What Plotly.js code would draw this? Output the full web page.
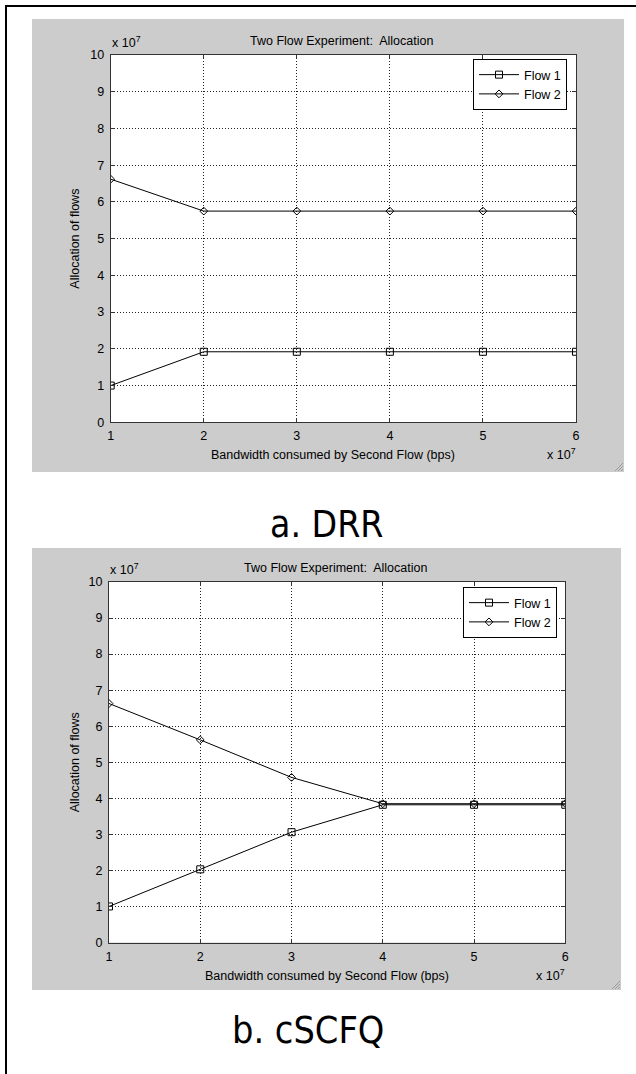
<!DOCTYPE html>
<html>
<head>
<meta charset="utf-8">
<script src="https://cdn.plot.ly/plotly-3.0.1.min.js"></script>
<style>
html,body{margin:0;padding:0;background:#fff;}
#chart{width:636px;height:1074px;}
</style>
</head>
<body>
<div id="chart"></div>
<script>
// Data (bps)
var bandwidth = [1e7, 2e7, 3e7, 4e7, 5e7, 6e7];
var drrFlow1 = [1.0e7, 1.92e7, 1.92e7, 1.92e7, 1.92e7, 1.92e7];
var drrFlow2 = [6.62e7, 5.75e7, 5.75e7, 5.75e7, 5.75e7, 5.75e7];
var cscfqFlow1 = [1.0e7, 2.03e7, 3.06e7, 3.82e7, 3.82e7, 3.82e7];
var cscfqFlow2 = [6.63e7, 5.62e7, 4.58e7, 3.85e7, 3.85e7, 3.85e7];
var xTickVals = [1e7, 2e7, 3e7, 4e7, 5e7, 6e7];
var xTickText = ['1', '2', '3', '4', '5', '6'];
var yTickVals = [0, 1e7, 2e7, 3e7, 4e7, 5e7, 6e7, 7e7, 8e7, 9e7, 1e8];
var yTickText = ['0', '1', '2', '3', '4', '5', '6', '7', '8', '9', '10'];
var seriesNames = ['Flow 1', 'Flow 2'];
var chartTitle = 'Two Flow Experiment:  Allocation';
var xTitle = 'Bandwidth consumed by Second Flow (bps)';
var yTitle = 'Allocation of flows';
var captions = ['a. DRR', 'b. cSCFQ'];

var W = 636, H = 1074;
function px(x){ return x / W; }
function py(y){ return 1 - y / H; }
var FONT = 'Liberation Sans, Arial, sans-serif';
var CAPFONT = 'DejaVu Sans Condensed, DejaVu Sans, sans-serif';
var FS = 12.5;

function mk(x, y, name, sym, xa, ya, leg){
  return {
    x: x, y: y, name: name, type: 'scatter', mode: 'lines+markers',
    xaxis: xa, yaxis: ya, legend: leg,
    line: {color: '#000', width: 1},
    marker: {symbol: sym, size: sym === 'square-open' ? 7 : 6, color: '#000', line: {color: '#000', width: 1}}
  };
}
var traces = [
  mk(bandwidth, drrFlow1, seriesNames[0], 'square-open', 'x', 'y', 'legend'),
  mk(bandwidth, drrFlow2, seriesNames[1], 'diamond-open', 'x', 'y', 'legend'),
  mk(bandwidth, cscfqFlow1, seriesNames[0], 'square-open', 'x2', 'y2', 'legend2'),
  mk(bandwidth, cscfqFlow2, seriesNames[1], 'diamond-open', 'x2', 'y2', 'legend2')
];

function xax(dom, anchor){
  return {
    domain: dom, anchor: anchor, range: [1e7, 6e7],
    tickvals: xTickVals, ticktext: xTickText,
    ticks: 'inside', ticklen: 4, tickcolor: '#333', mirror: 'ticks',
    showline: true, linecolor: '#333', linewidth: 1,
    showgrid: true, gridcolor: '#222', griddash: '1px,2px', gridwidth: 1,
    zeroline: false, tickfont: {family: FONT, size: FS, color: '#000'},
    ticklabelstandoff: 2,
    fixedrange: true
  };
}
function yax(dom, anchor){
  return {
    domain: dom, anchor: anchor, range: [0, 1e8],
    tickvals: yTickVals, ticktext: yTickText,
    ticks: 'inside', ticklen: 4, tickcolor: '#333', mirror: 'ticks',
    showline: true, linecolor: '#333', linewidth: 1,
    showgrid: true, gridcolor: '#222', griddash: '1px,2px', gridwidth: 1,
    zeroline: false, tickfont: {family: FONT, size: FS, color: '#000'},
    ticklabelstandoff: 3,
    fixedrange: true
  };
}

var panels = [
  {gx0: 32, gx1: 624, gy0: 19, gy1: 472, ax0: 110.7, ax1: 576, ay0: 55, ay1: 422.3, legX: 567, legY: 59, capY: 524, capSize: 37},
  {gx0: 32, gx1: 621, gy0: 548, gy1: 990, ax0: 109, ax1: 565.3, ay0: 582, ay1: 942.5, legX: 557, legY: 587, capY: 1030, capSize: 37.5}
];

var shapes = [];
var annotations = [];
panels.forEach(function(p, i){
  shapes.push({type: 'rect', xref: 'paper', yref: 'paper', layer: 'below',
    x0: px(p.gx0), x1: px(p.gx1), y0: py(p.gy1), y1: py(p.gy0),
    fillcolor: '#cccccc', line: {width: 0}});
  shapes.push({type: 'rect', xref: 'paper', yref: 'paper', layer: 'below',
    x0: px(p.ax0), x1: px(p.ax1), y0: py(p.ay1), y1: py(p.ay0),
    fillcolor: '#ffffff', line: {width: 0}});
  // resize grip
  [3, 6, 9].forEach(function(d){
    shapes.push({type: 'line', xref: 'paper', yref: 'paper',
      x0: px(p.gx1 - d), y0: py(p.gy1 - 1), x1: px(p.gx1 - 1), y1: py(p.gy1 - d),
      line: {color: '#9a9a9a', width: 1}});
  });
  var cx = (p.ax0 + p.ax1) / 2;
  annotations.push({text: chartTitle, xref: 'paper', yref: 'paper', x: px(cx - 2), y: py(p.ay0 - 14),
    xanchor: 'center', yanchor: 'middle', showarrow: false, font: {family: FONT, size: FS, color: '#000'}});
  annotations.push({text: 'x 10<sup>7</sup>', xref: 'paper', yref: 'paper', x: px(p.ax0 - 1), y: py(p.ay0 - 3),
    xanchor: 'left', yanchor: 'bottom', showarrow: false, font: {family: FONT, size: FS, color: '#000'}});
  annotations.push({text: 'x 10<sup>7</sup>', xref: 'paper', yref: 'paper', x: px(p.ax1 + 2), y: py(p.ay1 + 22),
    xanchor: 'right', yanchor: 'top', showarrow: false, font: {family: FONT, size: FS, color: '#000'}});
  annotations.push({text: xTitle, xref: 'paper', yref: 'paper', x: px(cx - 10), y: py(p.ay1 + 33),
    xanchor: 'center', yanchor: 'middle', showarrow: false, font: {family: FONT, size: FS, color: '#000'}});
  annotations.push({text: yTitle, xref: 'paper', yref: 'paper', x: px(75), y: py((p.ay0 + p.ay1) / 2),
    xanchor: 'center', yanchor: 'middle', textangle: -90, showarrow: false, font: {family: FONT, size: FS, color: '#000'}});
  annotations.push({text: captions[i], xref: 'paper', yref: 'paper', x: px(i === 0 ? 326 : 308), y: py(p.capY),
    xanchor: 'center', yanchor: 'middle', showarrow: false, font: {family: CAPFONT, size: p.capSize, color: '#000'}});
});
// outer border (top and left)
shapes.push({type: 'line', xref: 'paper', yref: 'paper', x0: px(5), x1: 1, y0: py(6), y1: py(6), line: {color: '#000', width: 2}});
shapes.push({type: 'line', xref: 'paper', yref: 'paper', x0: px(6), x1: px(6), y0: py(5), y1: 0, line: {color: '#000', width: 2}});

function leg(p){
  return {x: px(p.legX), y: py(p.legY), xanchor: 'right', yanchor: 'top', xref: 'paper', yref: 'paper',
    bgcolor: '#ffffff', bordercolor: '#000', borderwidth: 1, itemwidth: 40,
    font: {family: FONT, size: FS, color: '#000'}, tracegroupgap: 0};
}

var layout = {
  width: W, height: H,
  margin: {l: 0, r: 0, t: 0, b: 0},
  paper_bgcolor: '#ffffff', plot_bgcolor: 'rgba(0,0,0,0)',
  showlegend: true,
  xaxis: xax([px(panels[0].ax0), px(panels[0].ax1)], 'y'),
  yaxis: yax([py(panels[0].ay1), py(panels[0].ay0)], 'x'),
  xaxis2: xax([px(panels[1].ax0), px(panels[1].ax1)], 'y2'),
  yaxis2: yax([py(panels[1].ay1), py(panels[1].ay0)], 'x2'),
  legend: leg(panels[0]),
  legend2: leg(panels[1]),
  shapes: shapes,
  annotations: annotations
};

Plotly.newPlot('chart', traces, layout, {displayModeBar: false, staticPlot: true});
</script>
</body>
</html>
